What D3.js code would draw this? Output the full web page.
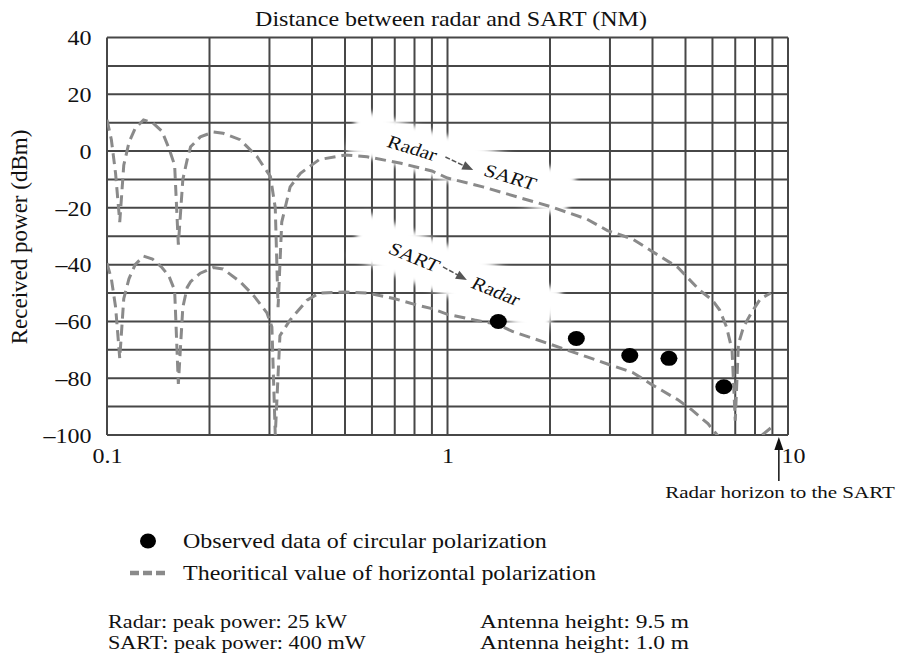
<!DOCTYPE html>
<html>
<head>
<meta charset="utf-8">
<script src="https://cdn.jsdelivr.net/npm/d3@7"></script>
<style>
  body { margin: 0; background: #fff; }
  text { font-family: "Liberation Serif", "Times New Roman", serif; fill: #111; }
</style>
</head>
<body>
<div id="chart"></div>
<script>
// theoretical curve, radar -> SART (NM, dBm)
const upDist = [0.100, 0.103, 0.106, 0.109, 0.112, 0.116, 0.121, 0.128, 0.136, 0.145, 0.152, 0.158, 0.162,
  0.167, 0.172, 0.176, 0.188, 0.205, 0.219, 0.246, 0.276, 0.302, 0.312, 0.318, 0.326, 0.345, 0.37, 0.42,
  0.5, 0.58, 0.73, 0.9, 1.0, 1.27, 1.64, 2.0, 2.57, 2.95, 3.5, 3.95, 4.75, 5.5, 6.0, 6.3, 6.6, 6.85, 7.0,
  7.15, 7.4, 7.8, 8.3, 8.9];
const upPower = [11, 4, -8, -25, -5, 3, 8, 11, 10, 7, 1, -5, -33,
  -10, -3, 1.5, 5, 6.7, 6.3, 4, -2, -9, -20, -55, -25, -12.6, -7.8, -3,
  -1.4, -2, -4.3, -7, -9.5, -12.6, -16.5, -19.5, -24, -28, -31, -35, -41, -49, -52.5, -56, -62, -70, -95,
  -68, -62, -57, -52, -50];

// theoretical curve, SART -> radar
const lowDist = [0.100, 0.103, 0.106, 0.109, 0.112, 0.116, 0.121, 0.128, 0.136, 0.145, 0.152, 0.158, 0.162,
  0.167, 0.172, 0.176, 0.188, 0.205, 0.219, 0.246, 0.27, 0.295, 0.305, 0.312, 0.322, 0.345, 0.387, 0.42,
  0.5, 0.58, 0.7, 0.8, 0.9, 1.0, 1.2, 1.4, 1.55, 2.0, 2.57, 2.95, 3.5, 3.95, 4.75, 5.2, 5.82, 6.1, 6.3,
  7.0, 8.4, 8.9];
const lowPower = [-39.5, -45, -55, -73, -52, -45, -40, -37, -38, -41, -44, -49, -82,
  -55, -48, -46, -43, -41, -41.5, -46, -51, -57, -62, -100, -65, -59.5, -52.5, -50,
  -49.6, -50, -52, -54, -55.5, -57.5, -59.5, -61, -63.5, -68, -72.5, -75, -78, -82, -87.6, -91, -96, -99, -101,
  null, -100, -97.5];

// observed data, circular polarization
const obsDist = [1.41, 2.39, 3.43, 4.47, 6.48];
const obsPower = [-60, -66, -72, -73, -83];

const yTicks = [40, 20, 0, -20, -40, -60, -80, -100];
const xTicks = [0.1, 1, 10];
const horizonDist = 9.4;

const W = 899, H = 661;
const SX = 1.2; // picture is stretched sideways
const pL = 107, pR = 788, pT = 37.5, pB = 435;

const svg = d3.select("#chart").append("svg").attr("width", W).attr("height", H);

const x = d3.scaleLog().domain([0.1, 10]).range([pL, pR]);
const y = d3.scaleLinear().domain([-100, 40]).range([pB, pT]);

function sText(g, px, py, str, size, anchor) {
  return g.append("text")
    .attr("transform", `translate(${px},${py}) scale(${SX},1)`)
    .attr("font-size", size)
    .attr("text-anchor", anchor || "start")
    .text(str);
}

// grid
const gridX = [];
[0.1, 1].forEach(dec => { for (let k = 1; k < 10; k++) gridX.push(dec * k); });
gridX.push(10);
const gridY = d3.range(-100, 41, 10);

const grid = svg.append("g").attr("stroke", "#474747").attr("stroke-width", 2);
grid.selectAll(".gx").data(gridX).enter().append("line")
  .attr("x1", d => x(d)).attr("x2", d => x(d)).attr("y1", pT).attr("y2", pB);
grid.selectAll(".gy").data(gridY).enter().append("line")
  .attr("x1", pL).attr("x2", pR).attr("y1", d => y(d)).attr("y2", d => y(d));

// white bands behind the direction labels
const defs = svg.append("defs");
const blur = defs.append("filter").attr("id", "soft")
  .attr("x", "-20%").attr("y", "-50%").attr("width", "140%").attr("height", "200%");
blur.append("feGaussianBlur").attr("stdDeviation", 2.5);

const bands = [
  { d: 1.10, p: -4.2, len: 228, h: 44, ang: 17 },
  { d: 1.056, p: -43.3, len: 212, h: 48, ang: 22 }
];
svg.append("g").selectAll("rect").data(bands).enter().append("rect")
  .attr("transform", b => `translate(${x(b.d)},${y(b.p)}) rotate(${b.ang})`)
  .attr("x", b => -b.len / 2).attr("y", b => -b.h / 2)
  .attr("width", b => b.len).attr("height", b => b.h)
  .attr("fill", "#fff").attr("filter", "url(#soft)");

// curves
defs.append("clipPath").attr("id", "plot")
  .append("rect").attr("x", pL).attr("y", pT).attr("width", pR - pL).attr("height", pB - pT);

const line = d3.line()
  .defined(d => d[1] !== null)
  .x(d => x(d[0])).y(d => y(d[1]));

const curves = svg.append("g").attr("clip-path", "url(#plot)")
  .attr("fill", "none").attr("stroke", "#8a8a8a").attr("stroke-width", 3)
  .attr("stroke-dasharray", "11 6");
curves.append("path").attr("d", line(upDist.map((d, i) => [d, upPower[i]])));
curves.append("path").attr("d", line(lowDist.map((d, i) => [d, lowPower[i]])));

// observed points
svg.append("g").selectAll("ellipse").data(obsDist).enter().append("ellipse")
  .attr("cx", d => x(d)).attr("cy", (d, i) => y(obsPower[i]))
  .attr("rx", 8.5).attr("ry", 7.5).attr("fill", "#000");

// direction labels
const labels = [
  { a: "Radar", b: "SART", pa: [0.789, 1.1], pb: [1.53, -9.1], arr: [[0.986, -2.1], [1.19, -6.7]], ang: 20 },
  { a: "SART", b: "Radar", pa: [0.80, -37.3], pb: [1.39, -49.3], arr: [[0.97, -40.8], [1.14, -45.4]], ang: 26 }
];
const lab = svg.append("g");
labels.forEach(l => {
  [[l.a, l.pa], [l.b, l.pb]].forEach(([s, p]) => {
    lab.append("text")
      .attr("transform", `translate(${x(p[0])},${y(p[1])}) scale(${SX},1) rotate(${l.ang})`)
      .attr("font-size", 18).attr("text-anchor", "middle").attr("dy", "0.35em").text(s);
  });
  const x1 = x(l.arr[0][0]), y1 = y(l.arr[0][1]), x2 = x(l.arr[1][0]), y2 = y(l.arr[1][1]);
  const a = Math.atan2(y2 - y1, x2 - x1);
  lab.append("line").attr("x1", x1).attr("y1", y1)
    .attr("x2", x2 - 8 * Math.cos(a)).attr("y2", y2 - 8 * Math.sin(a))
    .attr("stroke", "#555").attr("stroke-width", 1.5).attr("stroke-dasharray", "5 2");
  lab.append("path")
    .attr("d", "M0,0 L-11,-4.5 L-11,4.5 Z")
    .attr("transform", `translate(${x2},${y2}) rotate(${a * 180 / Math.PI})`)
    .attr("fill", "#555");
});

// y axis labels
const yAxis = svg.append("g").attr("transform", `translate(${pL},0)`)
  .call(d3.axisLeft(y).tickValues(yTicks).tickSize(0).tickPadding(13)
    .tickFormat(d => d < 0 ? "\u2013" + Math.abs(d) : d));
yAxis.select(".domain").remove();
yAxis.selectAll("text")
  .attr("font-family", "Liberation Serif").attr("font-size", 20).attr("fill", "#111")
  .attr("transform", `scale(${SX},1)`).attr("dy", "0.36em");

// x axis labels
const xAxis = svg.append("g").attr("transform", `translate(0,${pB})`)
  .call(d3.axisBottom(x).tickValues(xTicks).tickSize(0).tickPadding(14).tickFormat(d => d));
xAxis.select(".domain").remove();
xAxis.selectAll("text")
  .attr("font-family", "Liberation Serif").attr("font-size", 20).attr("fill", "#111")
  .attr("transform", d => `translate(${d === 10 ? 5 : 0},0) scale(${SX},1)`);

// titles
sText(svg, 451, 26, "Distance between radar and SART (NM)", 20, "middle");
svg.append("text").attr("transform", "translate(27,237) rotate(-90)")
  .attr("font-size", 23).attr("text-anchor", "middle").text("Received power (dBm)");

// radar horizon marker
const hx = x(horizonDist);
svg.append("line").attr("x1", hx).attr("x2", hx).attr("y1", 448).attr("y2", 481)
  .attr("stroke", "#111").attr("stroke-width", 1.5);
svg.append("path").attr("d", `M${hx},437 L${hx - 4.5},450 L${hx + 4.5},450 Z`).attr("fill", "#111");
sText(svg, 780, 498, "Radar horizon to the SART", 17.5, "middle");

// legend
svg.append("ellipse").attr("cx", 148).attr("cy", 541).attr("rx", 8).attr("ry", 7.5).attr("fill", "#000");
sText(svg, 183, 548, "Observed data of circular polarization", 20);
svg.append("line").attr("x1", 130).attr("x2", 166).attr("y1", 573).attr("y2", 573)
  .attr("stroke", "#8a8a8a").attr("stroke-width", 4.5).attr("stroke-dasharray", "9 4");
sText(svg, 183, 580, "Theoritical value of horizontal polarization", 20);

// footer
sText(svg, 108, 628, "Radar: peak power: 25 kW", 18.5);
sText(svg, 108, 649, "SART: peak power: 400 mW", 18.5);
sText(svg, 480, 628, "Antenna height: 9.5 m", 19.5);
sText(svg, 480, 649, "Antenna height: 1.0 m", 19.5);
</script>
</body>
</html>
